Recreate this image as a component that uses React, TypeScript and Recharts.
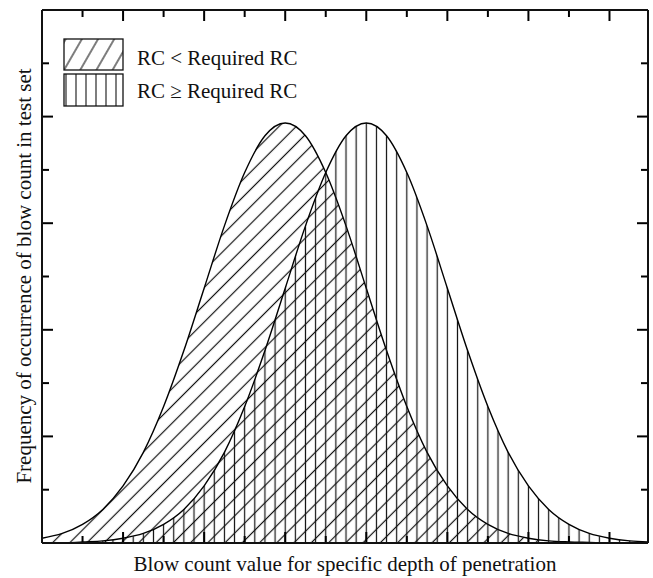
import { ComposedChart, Area, XAxis, YAxis, Legend, ReferenceLine } from "recharts";

// blow count axis positions (arbitrary units, one unit per tick)
const X_VALUES = [
  0, 0.5, 1, 1.5, 2, 2.5, 3, 3.5, 4, 4.5, 5, 5.5, 6, 6.5, 7, 7.5, 8, 8.5, 9,
  9.5, 10, 10.5, 11, 11.5, 12, 12.5, 13, 13.5, 14, 14.5, 15,
];

// RC < Required RC (diagonal hatch)
const RC_BELOW = [
  0.09, 0.18, 0.35, 0.63, 1.07, 1.7, 2.56, 3.61, 4.78, 5.95, 6.95, 7.64, 7.88,
  7.64, 6.95, 5.95, 4.78, 3.61, 2.56, 1.7, 1.07, 0.63, 0.35, 0.18, 0.09, 0.04,
  0.02, 0.01, 0, 0, 0,
];

// RC >= Required RC (vertical hatch)
const RC_ABOVE = [
  0, 0, 0.02, 0.04, 0.09, 0.18, 0.35, 0.63, 1.07, 1.7, 2.56, 3.61, 4.78, 5.95,
  6.95, 7.64, 7.88, 7.64, 6.95, 5.95, 4.78, 3.61, 2.56, 1.7, 1.07, 0.63, 0.35,
  0.18, 0.09, 0.04, 0.02,
];

const X_TICKS = [1, 2, 3, 4, 5, 6, 7, 8, 9, 10, 11, 12, 13, 14];
const Y_TICKS = [1, 2, 3, 4, 5, 6, 7, 8, 9];

const LEGEND_LABELS = ["RC < Required RC", "RC \u2265 Required RC"];
const X_LABEL = "Blow count value for specific depth of penetration";
const Y_LABEL = "Frequency of occurrence of blow count in test set";

const W = 653;
const H = 578;
const MARGIN = { top: 10, right: 5, bottom: 35, left: 42 };
const X_MAX = 14.95;
const Y_MAX = 10;
const PLOT_W = W - MARGIN.left - MARGIN.right;
const PLOT_H = H - MARGIN.top - MARGIN.bottom;
const X_UNIT = PLOT_W / X_MAX; // px per x unit
const Y_UNIT = PLOT_H / Y_MAX; // px per y unit
const V_STEP = X_UNIT / 4; // vertical hatch every quarter unit
const FONT = '"Liberation Serif", "Times New Roman", serif';
const INK = "#111";

const data = X_VALUES.map((x, i) => ({
  x,
  below: RC_BELOW[i],
  above: RC_ABOVE[i],
}));

// inward ticks: long on even values, short on odd
const tickPx = (v: number) => (v % 2 === 0 ? 11 : 7);
const FRAME = { stroke: INK, strokeWidth: 2 };

function LegendBox() {
  return (
    <svg width={260} height={75} style={{ display: "block" }}>
      <defs>
        <pattern
          id="legDiag"
          patternUnits="userSpaceOnUse"
          width={14}
          height={14}
          patternTransform="rotate(30)"
        >
          <line x1={7} y1={0} x2={7} y2={14} stroke={INK} strokeWidth={1.1} />
        </pattern>
        <pattern
          id="legVert"
          patternUnits="userSpaceOnUse"
          x={1}
          width={10}
          height={10}
        >
          <line x1={5} y1={0} x2={5} y2={10} stroke={INK} strokeWidth={1.1} />
        </pattern>
      </defs>
      <rect x={4} y={4} width={59} height={31} fill="url(#legDiag)" stroke={INK} strokeWidth={1.3} />
      <rect x={4} y={39} width={59} height={32} fill="url(#legVert)" stroke={INK} strokeWidth={1.3} />
      <text x={77} y={30} fontFamily={FONT} fontSize={21} fill={INK}>
        {LEGEND_LABELS[0]}
      </text>
      <text x={77} y={63} fontFamily={FONT} fontSize={21} fill={INK}>
        {LEGEND_LABELS[1]}
      </text>
    </svg>
  );
}

export default function App() {
  return (
    <div style={{ position: "absolute", left: 0, top: 0, width: W, height: H, background: "#fff" }}>
      <ComposedChart width={W} height={H} data={data} margin={MARGIN}>
        <defs>
          <pattern
            id="diagHatch"
            patternUnits="userSpaceOnUse"
            width={12.2}
            height={12.2}
            patternTransform="rotate(45)"
          >
            <line x1={6.1} y1={0} x2={6.1} y2={12.2} stroke={INK} strokeWidth={1.2} />
          </pattern>
          <pattern
            id="vertHatch"
            patternUnits="userSpaceOnUse"
            x={MARGIN.left - V_STEP / 2}
            width={V_STEP}
            height={10}
          >
            <line x1={V_STEP / 2} y1={0} x2={V_STEP / 2} y2={10} stroke={INK} strokeWidth={1.2} />
          </pattern>
        </defs>

        {/* frame */}
        <XAxis
          xAxisId="bottom"
          dataKey="x"
          type="number"
          domain={[0, X_MAX]}
          allowDataOverflow
          orientation="bottom"
          mirror
          height={1}
          tick={false}
          tickLine={false}
          axisLine={FRAME}
        />
        <XAxis
          xAxisId="top"
          dataKey="x"
          type="number"
          domain={[0, X_MAX]}
          allowDataOverflow
          orientation="top"
          mirror
          height={1}
          tick={false}
          tickLine={false}
          axisLine={FRAME}
        />
        <YAxis
          yAxisId="left"
          type="number"
          domain={[0, Y_MAX]}
          orientation="left"
          mirror
          width={1}
          tick={false}
          tickLine={false}
          axisLine={FRAME}
        />
        <YAxis
          yAxisId="right"
          type="number"
          domain={[0, Y_MAX]}
          orientation="right"
          mirror
          width={1}
          tick={false}
          tickLine={false}
          axisLine={FRAME}
        />

        <Area
          xAxisId="bottom"
          yAxisId="left"
          type="monotone"
          dataKey="below"
          stroke="#000"
          strokeWidth={1.4}
          fill="url(#diagHatch)"
          fillOpacity={1}
          dot={false}
          activeDot={false}
          isAnimationActive={false}
        />
        <Area
          xAxisId="bottom"
          yAxisId="left"
          type="monotone"
          dataKey="above"
          stroke="#000"
          strokeWidth={1.4}
          fill="url(#vertHatch)"
          fillOpacity={1}
          dot={false}
          activeDot={false}
          isAnimationActive={false}
        />

        {/* inward tick marks on all four sides */}
        {X_TICKS.map((v) => (
          <ReferenceLine
            key={`b${v}`}
            xAxisId="bottom"
            yAxisId="left"
            ifOverflow="visible"
            segment={[
              { x: v, y: 0 },
              { x: v, y: tickPx(v) / Y_UNIT },
            ]}
            stroke="#000"
            strokeWidth={2}
          />
        ))}
        {X_TICKS.map((v) => (
          <ReferenceLine
            key={`t${v}`}
            xAxisId="bottom"
            yAxisId="left"
            ifOverflow="visible"
            segment={[
              { x: v, y: Y_MAX },
              { x: v, y: Y_MAX - tickPx(v) / Y_UNIT },
            ]}
            stroke="#000"
            strokeWidth={2}
          />
        ))}
        {Y_TICKS.map((v) => (
          <ReferenceLine
            key={`l${v}`}
            xAxisId="bottom"
            yAxisId="left"
            ifOverflow="visible"
            segment={[
              { x: 0, y: v },
              { x: tickPx(v) / X_UNIT, y: v },
            ]}
            stroke="#000"
            strokeWidth={2}
          />
        ))}
        {Y_TICKS.map((v) => (
          <ReferenceLine
            key={`r${v}`}
            xAxisId="bottom"
            yAxisId="left"
            ifOverflow="visible"
            segment={[
              { x: X_MAX, y: v },
              { x: X_MAX - tickPx(v) / X_UNIT, y: v },
            ]}
            stroke="#000"
            strokeWidth={2}
          />
        ))}

        <Legend
          layout="horizontal"
          verticalAlign="middle"
          align="center"
          wrapperStyle={{ left: 60, top: 35, width: 260, height: 75 }}
          content={() => <LegendBox />}
        />

        <text x={345} y={571} textAnchor="middle" fontFamily={FONT} fontSize={21} fill={INK}>
          {X_LABEL}
        </text>
        <text
          x={31}
          y={276}
          transform="rotate(-90 31 276)"
          textAnchor="middle"
          fontFamily={FONT}
          fontSize={21}
          fill={INK}
        >
          {Y_LABEL}
        </text>
      </ComposedChart>
    </div>
  );
}
